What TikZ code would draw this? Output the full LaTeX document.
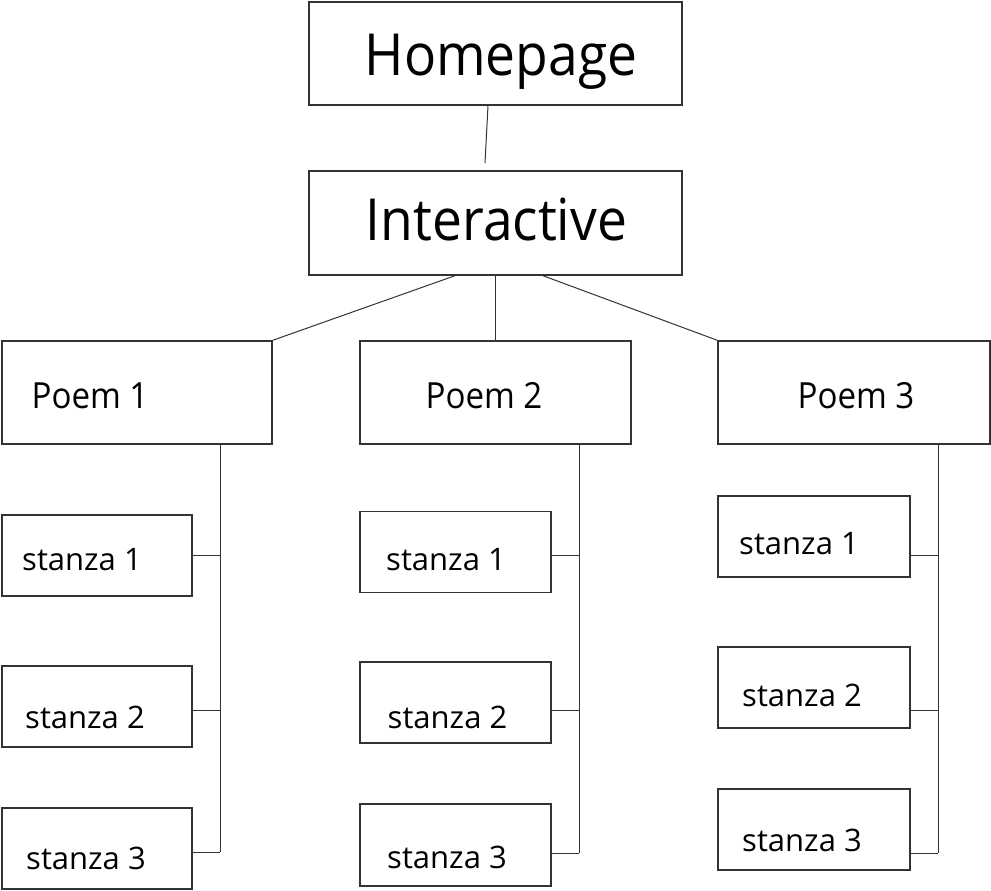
\documentclass[tikz,border=0pt]{standalone}
\usepackage{fontspec}
\setmainfont{Open Sans}
\newfontfamily\narrowfont{Open Sans}[FakeStretch=0.92]
\begin{document}
\begin{tikzpicture}[x=1pt,y=-1pt,
  box/.style={draw=black!80,line width=1.4pt,fill=white,inner sep=0pt},
  conn/.style={draw=black!80,line width=1pt},
  big/.style={anchor=base,inner sep=0pt,font=\narrowfont\fontsize{58}{60}\selectfont},
  mid/.style={anchor=base,inner sep=0pt,font=\narrowfont\fontsize{36}{40}\selectfont},
  small/.style={anchor=base,inner sep=0pt,font=\fontsize{31}{34}\selectfont}]
\useasboundingbox (0,0) rectangle (991,891);
% top boxes
\node[box,minimum width=373pt,minimum height=103pt] (home) at (495.5,53.5) {};
\node[box,minimum width=373pt,minimum height=104pt] (inter) at (495.5,223) {};
\node[big] (homet) at (501,75) {Homepage};
\node[big] (intert) at (496.5,240) {Interactive};
% poems
\node[box,minimum width=270pt,minimum height=103pt] (p1) at (137,392.5) {};
\node[box,minimum width=271pt,minimum height=103pt] (p2) at (495.5,392.5) {};
\node[box,minimum width=272pt,minimum height=103pt] (p3) at (854,392.5) {};
\node[mid] (p1t) at (90,408) {Poem 1};
\node[mid] (p2t) at (484,408) {Poem 2};
\node[mid] (p3t) at (856,408) {Poem 3};
% stanzas poem 1
\node[box,minimum width=190pt,minimum height=81pt] (a1) at (97,555.5) {};
\node[box,minimum width=190pt,minimum height=81pt] (a2) at (97,706.5) {};
\node[box,minimum width=190pt,minimum height=81pt] (a3) at (97,848.5) {};
\node[small] (a1t) at (82,570) {stanza 1};
\node[small] (a2t) at (85,728) {stanza 2};
\node[small] (a3t) at (86,869) {stanza 3};
% stanzas poem 2
\node[box,minimum width=191pt,minimum height=81pt] (b1) at (455.5,552) {};
\node[box,minimum width=191pt,minimum height=81pt] (b2) at (455.5,702.5) {};
\node[box,minimum width=191pt,minimum height=82pt] (b3) at (455.5,845) {};
\node[small] (b1t) at (446,570) {stanza 1};
\node[small] (b2t) at (447.5,728) {stanza 2};
\node[small] (b3t) at (447,868) {stanza 3};
% stanzas poem 3
\node[box,minimum width=192pt,minimum height=81pt] (c1) at (814,536.5) {};
\node[box,minimum width=192pt,minimum height=81pt] (c2) at (814,687.5) {};
\node[box,minimum width=192pt,minimum height=81pt] (c3) at (814,829.5) {};
\node[small] (c1t) at (799,554) {stanza 1};
\node[small] (c2t) at (802,706.5) {stanza 2};
\node[small] (c3t) at (802,851.5) {stanza 3};
% connectors top
\coordinate (hi) at (485,163);
\draw[conn] (home.south -| 488,0) -- (hi);
\draw[conn] (inter.south -| 455,0) -- (p1.north east);
\draw[conn] (inter.south -| 495,0) -- (p2.north -| 495,0);
\draw[conn] (inter.south -| 543,0) -- (p3.north west);
% spine coordinates
\coordinate (s1) at (220,852);
\coordinate (s2) at (579,853);
\coordinate (s3) at (938,853);
\draw[conn] (p1.south -| s1) -- (s1);
\draw[conn] (p2.south -| s2) -- (s2);
\draw[conn] (p3.south -| s3) -- (s3);
\draw[conn] (a1.east |- 0,555) -- (s1 |- 0,555);
\draw[conn] (a2.east |- 0,710) -- (s1 |- 0,710);
\draw[conn] (a3.east |- s1) -- (s1);
\draw[conn] (b1.east |- 0,555.5) -- (s2 |- 0,555.5);
\draw[conn] (b2.east |- 0,710) -- (s2 |- 0,710);
\draw[conn] (b3.east |- s2) -- (s2);
\draw[conn] (c1.east |- 0,555.5) -- (s3 |- 0,555.5);
\draw[conn] (c2.east |- 0,710) -- (s3 |- 0,710);
\draw[conn] (c3.east |- s3) -- (s3);
\end{tikzpicture}
\end{document}
